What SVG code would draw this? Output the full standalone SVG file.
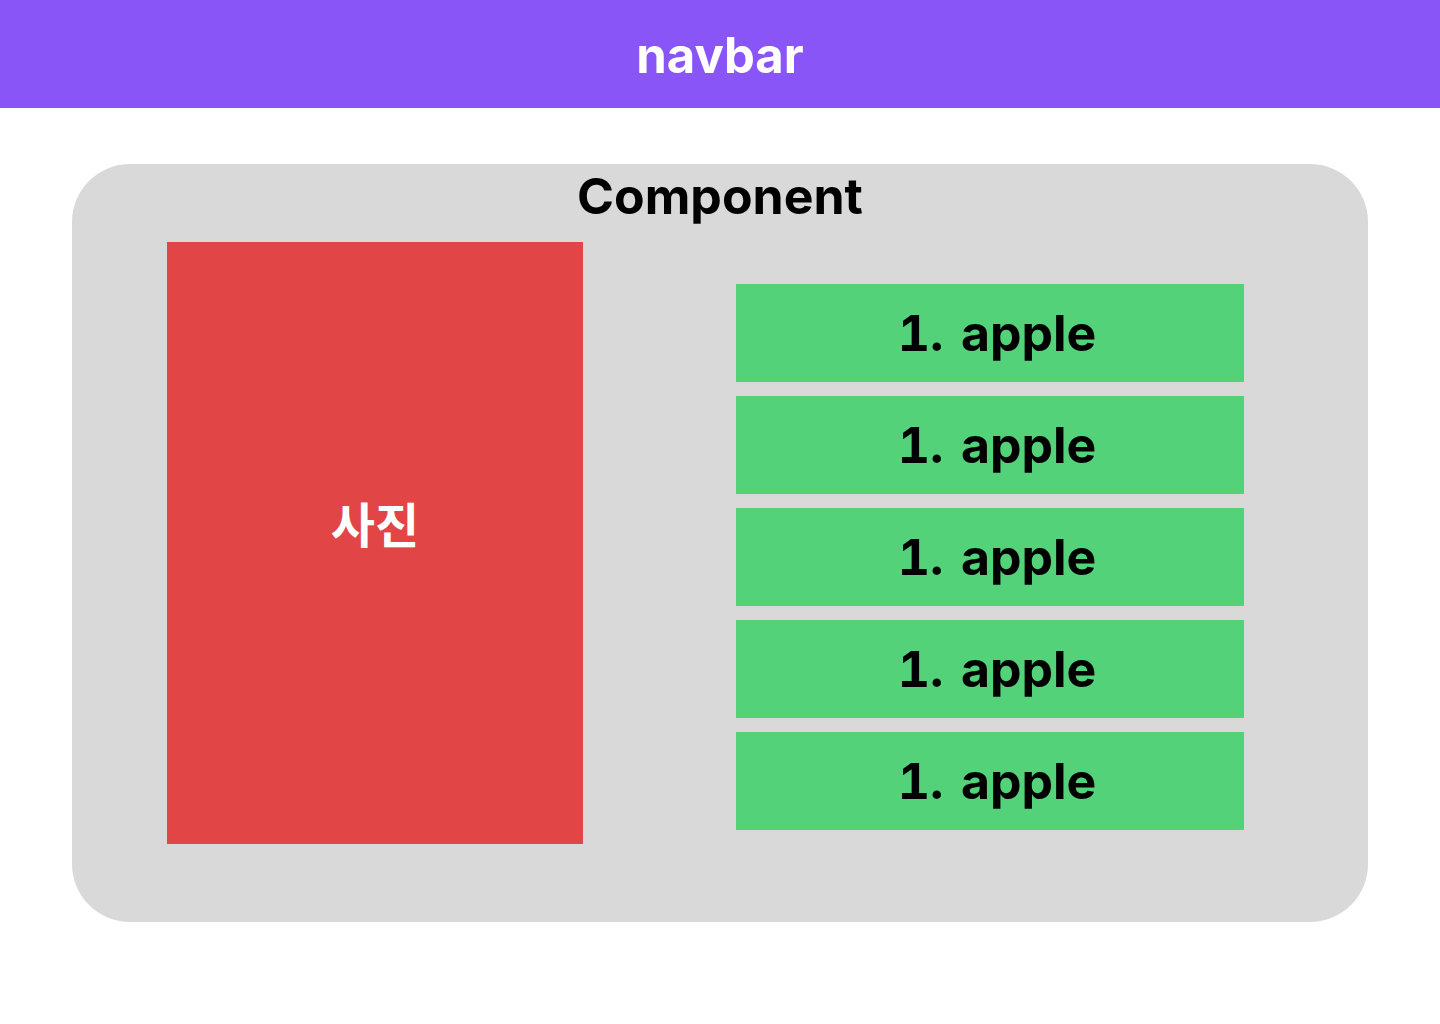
<svg xmlns="http://www.w3.org/2000/svg" width="1440" height="1024" viewBox="0 0 1440 1024">
<style>
.t{font-family:Inter,"Noto Sans CJK KR","Liberation Sans",sans-serif;font-weight:700;text-anchor:middle}
.item rect{fill:#53D279}
.item text{font-size:50px;fill:#000;font-variant-numeric:tabular-nums;word-spacing:4px}
</style>
<rect width="1440" height="1024" fill="#fff"/>
<g id="navbar">
<rect x="0" y="0" width="1440" height="108" fill="#8A55F7"/>
<text class="t" x="720" y="73" font-size="49" fill="#fff">navbar</text>
</g>
<g id="component">
<rect x="72" y="164" width="1296" height="758" rx="58" fill="#D9D9D9"/>
<text class="t" x="720" y="214" font-size="50" fill="#000">Component</text>
</g>
<g id="photo">
<rect x="167" y="242" width="416" height="602" fill="#E24545"/>
<text class="t" x="375" y="543" font-size="48" fill="#fff">사진</text>
</g>
<g id="item1" class="item"><rect x="736" y="284" width="508" height="98"/><text class="t" x="997" y="351">1. apple</text></g>
<g id="item2" class="item"><rect x="736" y="396" width="508" height="98"/><text class="t" x="997" y="463">1. apple</text></g>
<g id="item3" class="item"><rect x="736" y="508" width="508" height="98"/><text class="t" x="997" y="575">1. apple</text></g>
<g id="item4" class="item"><rect x="736" y="620" width="508" height="98"/><text class="t" x="997" y="687">1. apple</text></g>
<g id="item5" class="item"><rect x="736" y="732" width="508" height="98"/><text class="t" x="997" y="799">1. apple</text></g>
<g id="connectors"></g>
</svg>
